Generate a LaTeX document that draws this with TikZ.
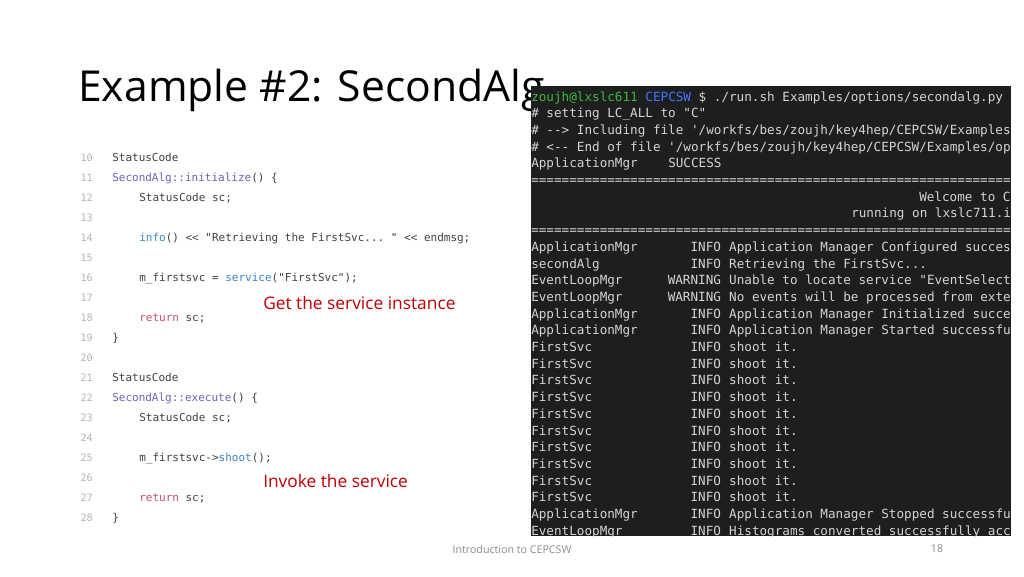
\documentclass[tikz,border=0pt]{standalone}
\usepackage{fontspec}
\setmainfont{Open Sans}
\setmonofont{DejaVu Sans Mono}
\definecolor{termbg}{HTML}{1E1E1E}
\definecolor{termfg}{HTML}{D4D4D4}
\definecolor{termgreen}{HTML}{3CB83C}
\definecolor{termblue}{HTML}{3B78FF}
\definecolor{codefg}{HTML}{404040}
\definecolor{codenum}{HTML}{B4B4B4}
\definecolor{codepurple}{HTML}{6F62B8}
\definecolor{codeblue}{HTML}{3A86C4}
\definecolor{codered}{HTML}{C2506C}
\definecolor{annot}{HTML}{C00000}
\definecolor{footgrey}{HTML}{8C8C8C}
\tikzset{
  term/.style={inner sep=0pt, text=termfg, font=\ttfamily\fontsize{9.48}{11}\selectfont},
  code/.style={inner sep=0pt, text=codefg, font=\ttfamily\fontsize{8.25}{10}\selectfont, anchor=base west},
  lnum/.style={inner sep=0pt, text=codenum, font=\ttfamily\fontsize{7.6}{9}\selectfont, anchor=base east},
  annotation/.style={inner sep=0pt, text=annot, font=\fontsize{13}{15}\selectfont, anchor=base west},
  footer/.style={inner sep=0pt, text=footgrey, font=\fontsize{8}{10}\selectfont}
}
\newcommand\tlog[4]{%
  \node[term,anchor=base west] (n#1) at (531,#1) {#2};
  \node[term,anchor=base east] (l#1) at (721.3,#1) {#3};
  \node[term,anchor=base west] (m#1) at (728.9,#1) {#4};}
\begin{document}
\begin{tikzpicture}[x=0.75pt,y=-0.75pt]
\useasboundingbox[fill=white] (0,0) rectangle (1024,576);

% title
\node[inner sep=0pt, anchor=base west, text=black, font=\fontsize{32}{38}\selectfont] (title) at (78,101) {Example \#2: SecondAlg};

% code panel
\node[lnum] (n10) at (93,161) {10}; \node[code] (c10) at (112,161) {StatusCode};
\node[lnum] (n11) at (93,181) {11}; \node[code] (c11) at (112,181) {\textcolor{codepurple}{SecondAlg::initialize}() \{};
\node[lnum] (n12) at (93,201) {12}; \node[code] (c12) at (139,201) {StatusCode sc;};
\node[lnum] (n13) at (93,221) {13};
\node[lnum] (n14) at (93,241) {14}; \node[code] (c14) at (139,241) {\textcolor{codeblue}{info}() << "Retrieving the FirstSvc... " << endmsg;};
\node[lnum] (n15) at (93,261) {15};
\node[lnum] (n16) at (93,281) {16}; \node[code] (c16) at (139,281) {m\_firstsvc = \textcolor{codeblue}{service}("FirstSvc");};
\node[lnum] (n17) at (93,301) {17};
\node[lnum] (n18) at (93,321) {18}; \node[code] (c18) at (139,321) {\textcolor{codered}{return} sc;};
\node[lnum] (n19) at (93,341) {19}; \node[code] (c19) at (112,341) {\}};
\node[lnum] (n20) at (93,361) {20};
\node[lnum] (n21) at (93,381) {21}; \node[code] (c21) at (112,381) {StatusCode};
\node[lnum] (n22) at (93,401) {22}; \node[code] (c22) at (112,401) {\textcolor{codepurple}{SecondAlg::execute}() \{};
\node[lnum] (n23) at (93,421) {23}; \node[code] (c23) at (139,421) {StatusCode sc;};
\node[lnum] (n24) at (93,441) {24};
\node[lnum] (n25) at (93,461) {25}; \node[code] (c25) at (139,461) {m\_firstsvc->\textcolor{codeblue}{shoot}();};
\node[lnum] (n26) at (93,481) {26};
\node[lnum] (n27) at (93,501) {27}; \node[code] (c27) at (139,501) {\textcolor{codered}{return} sc;};
\node[lnum] (n28) at (93,521) {28}; \node[code] (c28) at (112,521) {\}};

% annotations
\node[annotation] (a1) at (263,309) {Get the service instance};
\node[annotation] (a2) at (263,487) {Invoke the service};

% terminal
\fill[termbg] (531,86) rectangle (1011,536);
\begin{scope}
\clip (531,86) rectangle (1011,536);
\node[term,anchor=base west] (t0) at (531,101) {\textcolor{termgreen}{zoujh@lxslc611} \textcolor{termblue}{CEPCSW} \$ ./run.sh Examples/options/secondalg.py};
\node[term,anchor=base west] (t1) at (531,117.7) {\# setting LC\_ALL to "C"};
\node[term,anchor=base west] (t2) at (531,134.4) {\# --> Including file '/workfs/bes/zoujh/key4hep/CEPCSW/Examples};
\node[term,anchor=base west] (t3) at (531,151.1) {\# <-- End of file '/workfs/bes/zoujh/key4hep/CEPCSW/Examples/op};
\node[term,anchor=base west] (t4a) at (531,167.8) {ApplicationMgr};
\node[term,anchor=base west] (t4b) at (668,167.8) {SUCCESS};
\node[term,anchor=base west] (t5) at (531,184.5) {===============================================================};
\node[term,anchor=base west] (t6) at (919,201.2) {Welcome to C};
\node[term,anchor=base west] (t7) at (851,217.9) {running on lxslc711.i};
\node[term,anchor=base west] (t8) at (531,234.6) {===============================================================};
\tlog{251.3}{ApplicationMgr}{INFO}{Application Manager Configured succes}
\tlog{268.0}{secondAlg}{INFO}{Retrieving the FirstSvc...}
\tlog{284.7}{EventLoopMgr}{WARNING}{Unable to locate service "EventSelect}
\tlog{301.4}{EventLoopMgr}{WARNING}{No events will be processed from exte}
\tlog{318.1}{ApplicationMgr}{INFO}{Application Manager Initialized succe}
\tlog{334.8}{ApplicationMgr}{INFO}{Application Manager Started successfu}
\tlog{351.5}{FirstSvc}{INFO}{shoot it.}
\tlog{368.2}{FirstSvc}{INFO}{shoot it.}
\tlog{384.9}{FirstSvc}{INFO}{shoot it.}
\tlog{401.6}{FirstSvc}{INFO}{shoot it.}
\tlog{418.3}{FirstSvc}{INFO}{shoot it.}
\tlog{435.0}{FirstSvc}{INFO}{shoot it.}
\tlog{451.7}{FirstSvc}{INFO}{shoot it.}
\tlog{468.4}{FirstSvc}{INFO}{shoot it.}
\tlog{485.1}{FirstSvc}{INFO}{shoot it.}
\tlog{501.8}{FirstSvc}{INFO}{shoot it.}
\tlog{518.5}{ApplicationMgr}{INFO}{Application Manager Stopped successfu}
\tlog{535.2}{EventLoopMgr}{INFO}{Histograms converted successfully acc}
\end{scope}

% footer
\node[footer] (foot) at (512,549) {Introduction to CEPCSW};
\node[footer] (page) at (937,549) {18};
\end{tikzpicture}
\end{document}
